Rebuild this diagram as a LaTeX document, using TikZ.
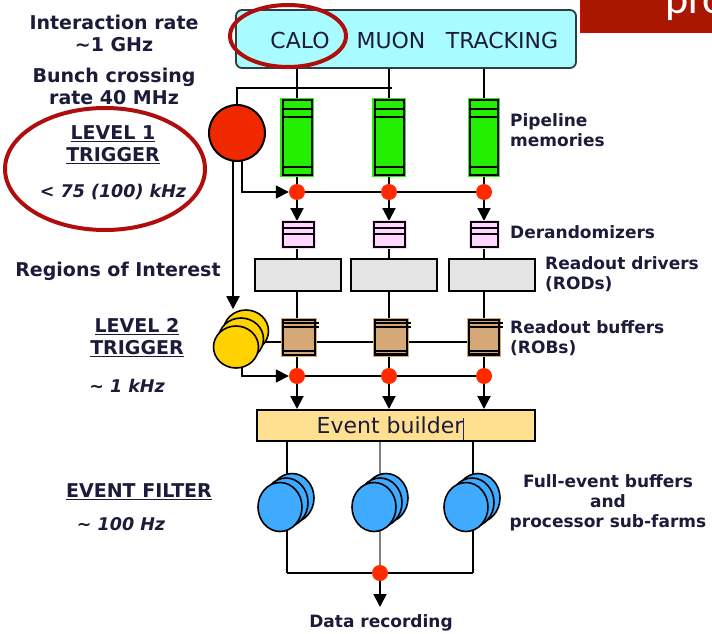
\documentclass[tikz,border=0pt]{standalone}
\usepackage{fontspec}
\setmainfont{DejaVu Sans}
\newfontfamily\bannerfont{Carlito}
\usetikzlibrary{arrows.meta,calc,shapes.geometric}
\pgfdeclarelayer{bg}
\pgfdeclarelayer{paper}
\pgfsetlayers{paper,bg,main}
\definecolor{ink}{RGB}{28,28,58}
\definecolor{detcyan}{RGB}{168,252,255}
\definecolor{bannerred}{RGB}{170,23,0}
\definecolor{bannerline}{RGB}{200,10,10}
\definecolor{annot}{RGB}{176,14,14}
\definecolor{lonered}{RGB}{240,40,0}
\definecolor{pipegreen}{RGB}{34,240,0}
\definecolor{derpink}{RGB}{255,214,255}
\definecolor{rodgray}{RGB}{228,228,228}
\definecolor{robtan}{RGB}{214,168,120}
\definecolor{ltwoyellow}{RGB}{255,210,0}
\definecolor{ebfill}{RGB}{255,224,144}
\definecolor{efblue}{RGB}{64,170,255}
\definecolor{dotred}{RGB}{255,42,0}
\tikzset{
  txt/.style={text=ink, font=\bfseries\fontsize{19}{22}\selectfont, align=center, inner sep=0pt},
  rtxt/.style={text=ink, font=\bfseries\fontsize{17}{20.5}\selectfont, align=left, anchor=west, inner sep=0pt},
  ctxt/.style={text=ink, font=\bfseries\fontsize{17}{20}\selectfont, align=center, inner sep=0pt},
  ln/.style={draw=black, line width=2pt},
  arr/.style={ln, -{Triangle[width=13pt,length=13pt]}},
  dot/.style={circle, fill=dotred, minimum size=16pt, inner sep=0pt},
  boxbase/.style={rectangle, draw=black, line width=2pt, inner sep=0pt},
  pipe/.style={boxbase, fill=pipegreen, minimum height=75pt, preaction={draw=pipegreen, line width=4.5pt}},
  derbox/.style={boxbase, fill=derpink, minimum height=25pt, preaction={draw=derpink, line width=4pt}},
  rodbox/.style={boxbase, fill=rodgray, minimum width=86pt, minimum height=32pt},
  robbox/.style={boxbase, fill=robtan, minimum height=35pt, preaction={draw=robtan, line width=4.5pt}},
  ydisk/.style={ellipse, draw=black, line width=1.6pt, fill=ltwoyellow, minimum width=45pt, minimum height=42pt, inner sep=0pt},
  bdisk/.style={ellipse, draw=black, line width=1.6pt, fill=efblue, minimum width=44pt, minimum height=49pt, inner sep=0pt},
  annotring/.style={draw=annot, line width=4pt},
}
\begin{document}
\begin{tikzpicture}[x=1pt,y=-1pt]
\useasboundingbox (0,0) rectangle (712,634);
\begin{pgfonlayer}{paper}
\fill[white] (0,0) rectangle (712,634);
\end{pgfonlayer}

% banner (clipped)
\begin{scope}
\clip (0,0) rectangle (712,634);
\node[rectangle, fill=bannerred, draw=bannerline, line width=1.5pt, minimum width=140pt, minimum height=40pt, anchor=north west, inner sep=0pt] (banner) at (580,-8) {};
\node[anchor=base west, text=white, font=\bannerfont\fontsize{44}{44}\selectfont, inner sep=0pt] (bantext) at (665,14) {pro};
\end{scope}

% detector box
\node[rectangle, rounded corners=6pt, draw={rgb,255:red,50;green,60;blue,60}, line width=1.8pt, fill=detcyan, minimum width=340pt, minimum height=58pt, inner sep=0pt] (det) at (406,39) {};
\node[text=ink, font=\fontsize{22}{22}\selectfont, inner sep=0pt] (calo) at (300,40) {CALO};
\node[text=ink, font=\fontsize{22}{22}\selectfont, inner sep=0pt] (muon) at (391,40) {MUON};
\node[text=ink, font=\fontsize{22}{22}\selectfont, inner sep=0pt] (track) at (502,40) {TRACKING};

% level 1 trigger
\node[circle, draw=black, line width=2pt, fill=lonered, minimum size=56pt, inner sep=0pt] (l1) at (237,133) {};

% pipelines
\node[pipe, minimum width=29pt] (p1) at (297,137.5) {};
\node[pipe, minimum width=29pt] (p2) at (389,137.5) {};
\node[pipe, minimum width=28pt] (p3) at (484,137.5) {};
\foreach \i in {1,2,3}{
  \draw[line width=1.6pt] ($(p\i.north west)+(0,10)$) -- ($(p\i.north east)+(0,10)$);
  \draw[line width=1.6pt] ($(p\i.north west)+(0,18)$) -- ($(p\i.north east)+(0,18)$);
  \draw[line width=1.6pt] ($(p\i.south west)+(0,-9)$) -- ($(p\i.south east)+(0,-9)$);
}

% dots row 1
\node[dot] (d1) at (297,192) {};
\node[dot] (d2) at (389,192) {};
\node[dot] (d3) at (484,192) {};

% derandomizers
\node[derbox, minimum width=31pt] (der1) at (298,234.5) {};
\node[derbox, minimum width=31pt] (der2) at (389,234.5) {};
\node[derbox, minimum width=27pt] (der3) at (484,234.5) {};
\foreach \i in {1,2,3}{
  \draw[line width=1.5pt] ($(der\i.north west)+(0,7)$) -- ($(der\i.north east)+(0,7)$);
  \draw[line width=1.5pt] ($(der\i.north west)+(0,13)$) -- ($(der\i.north east)+(0,13)$);
}

% RODs
\node[rodbox] (rod1) at (298,275) {};
\node[rodbox] (rod2) at (394,275) {};
\node[rodbox] (rod3) at (491.5,275) {};

% ROBs
\node[robbox, minimum width=32pt] (rob1) at (299,337.5) {};
\node[robbox, minimum width=32pt] (rob2) at (391,337.5) {};
\node[robbox, minimum width=30pt] (rob3) at (484,337.5) {};
\foreach \i in {1,2,3}{
  \draw[line width=1.5pt] ($(rob\i.north west)+(0,4)$) -- ($(rob\i.north east)+(3,4)$);
  \draw[line width=1.5pt] ($(rob\i.north west)+(0,8)$) -- ($(rob\i.north east)+(3,8)$);
  \draw[line width=1.5pt] ($(rob\i.south west)+(0,-5)$) -- ($(rob\i.south east)+(0,-5)$);
}
\draw[line width=3pt] ($(rob2.south west)+(0,-2)$) -- ($(rob2.south east)+(0,-2)$);
\draw[line width=3pt] ($(rob3.south west)+(0,-2)$) -- ($(rob3.south east)+(0,-2)$);

% level 2 trigger stack
\node[ydisk] (yb) at (246,331) {};
\node[ydisk] (ym) at (241,339) {};
\node[ydisk] (yf) at (236,347) {};

% dots row 2
\node[dot] (e1) at (297,376) {};
\node[dot] (e2) at (389,376) {};
\node[dot] (e3) at (484,376) {};

% event builder
\node[rectangle, draw=black, line width=2pt, fill=ebfill, minimum width=278pt, minimum height=31pt, inner sep=0pt] (eb) at (396,425.5) {};
\node[text=ink, font=\fontsize{22}{22}\selectfont, inner sep=0pt] (ebt) at (390,425) {Event builder};
\coordinate (cur1) at (463,418);
\coordinate (cur2) at (463,440);
\draw[draw={rgb,255:red,20;green,40;blue,140}, line width=1pt] (cur1) -- (cur2);

% event filter stacks
\foreach \i/\x in {1/280,2/374,3/466}{
  \node[bdisk] (b\i c) at (\x+12,498) {};
  \node[bdisk] (b\i b) at (\x+6,502.5) {};
  \node[bdisk] (b\i a) at (\x,507) {};
}

% bottom
\coordinate (fx1) at (287,573);
\coordinate (fx2) at (380,573);
\coordinate (fx3) at (473,573);
\node[dot] (fd) at (380,573) {};
\coordinate (drend) at (380,607);
\node[ctxt] (rec) at (381,623) {Data recording};

% connectors
\begin{pgfonlayer}{bg}
  \draw[ln] (det.south -| p1.north) -- (p1.north);
  \draw[ln] (det.south -| p2.north) -- (p2.north);
  \draw[ln] (det.south -| p3.north) -- (p3.north);
  \coordinate (mj) at (392,88);
  \draw[ln] (l1.north) |- (mj);
  \coordinate (l1o) at (242,160);
  \draw[arr] (l1o) |- (d1);
  \draw[ln] (d1) -- (d2) -- (d3);
  \coordinate (l1d) at (233,160);
  \draw[arr] (l1d) -- (l1d |- yb.north);
  \foreach \i in {1,2,3}{
    \draw[ln] (p\i.south) -- (d\i);
    \draw[arr] (d\i) -- (d\i |- der\i.north);
    \draw[ln] (der\i.south -| d\i) -- (d\i |- rod\i.north);
    \draw[ln] (d\i |- rod\i.south) -- (d\i |- rob\i.north);
    \draw[ln] (e\i |- rob\i.south) -- (e\i);
    \draw[arr] (e\i) -- (e\i |- eb.north);
  }
  \coordinate (ylr) at (262,342);
  \draw[ln] (ylr) -- (ylr -| rob3.west);
  \coordinate (ylo) at (242,366);
  \draw[arr] (ylo) |- (e1);
  \draw[ln] (e1) -- (e2) -- (e3);
  \draw[ln] (eb.south -| fx1) -- (fx1);
  \draw[ln, draw=gray] (eb.south -| fx2) -- (fx2);
  \draw[ln] (eb.south -| fx3) -- (fx3);
  \draw[ln] (fx1) -- (fx3);
  \draw[arr] (fd) -- (drend);
\end{pgfonlayer}

% left labels
\node[txt] (ir) at (114,33) {Interaction rate\\\textasciitilde1 GHz};
\node[txt] (bc) at (114,86) {Bunch crossing\\rate 40 MHz};
\node[txt] (l1t) at (113,145) {\underline{LEVEL 1}\\\underline{TRIGGER}};
\node[txt, font=\bfseries\itshape\fontsize{17.5}{20}\selectfont] (l1r) at (113,192) {< 75 (100) kHz};
\node[txt] (roi) at (118,271) {Regions of Interest};
\node[txt] (l2t) at (137,338) {\underline{LEVEL 2}\\\underline{TRIGGER}};
\node[txt, font=\bfseries\itshape\fontsize{17.5}{20}\selectfont] (l2r) at (127,386) {\textasciitilde{} 1 kHz};
\node[txt] (ef) at (139,492) {\underline{EVENT FILTER}};
\node[txt, font=\bfseries\itshape\fontsize{17.5}{20}\selectfont] (efr) at (121,524) {\textasciitilde{} 100 Hz};

% right labels
\node[rtxt] (pm) at (510,130) {Pipeline\\memories};
\node[rtxt] (dz) at (510,232) {Derandomizers};
\node[rtxt] (rd) at (545,274) {Readout drivers\\(RODs)};
\node[rtxt] (rb) at (510,338) {Readout buffers\\(ROBs)};
\node[ctxt] (fe) at (608,503) {Full-event buffers\\and\\processor sub-farms};

% annotation rings
\draw[annotring] (288,36) ellipse [x radius=58, y radius=31];
\draw[annotring] (105,169) ellipse [x radius=100, y radius=61];
\end{tikzpicture}
\end{document}
